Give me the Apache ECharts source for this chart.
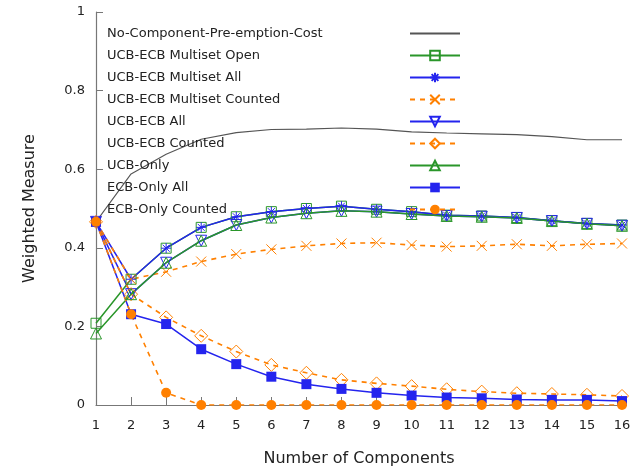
<!DOCTYPE html>
<html>
<head>
<meta charset="utf-8">
<script src="https://cdn.jsdelivr.net/npm/echarts@6/dist/echarts.min.js"></script>
<style>
  html, body { margin: 0; padding: 0; background: #fff; }
  #chart-container { width: 643px; height: 473px; }
</style>
</head>
<body>
<div id="chart-container"></div>
<script>
var xs = [1, 2, 3, 4, 5, 6, 7, 8, 9, 10, 11, 12, 13, 14, 15, 16];
var noComp = [0.466, 0.588, 0.638, 0.676, 0.693, 0.701, 0.702, 0.705, 0.702, 0.695, 0.692, 0.690, 0.688, 0.683, 0.675, 0.675];
var msOpen = [0.208, 0.320, 0.399, 0.452, 0.479, 0.492, 0.500, 0.506, 0.498, 0.492, 0.483, 0.481, 0.477, 0.469, 0.462, 0.458];
var msAll = [0.466, 0.320, 0.399, 0.452, 0.479, 0.492, 0.500, 0.506, 0.498, 0.492, 0.483, 0.481, 0.477, 0.469, 0.462, 0.458];
var msCounted = [0.466, 0.320, 0.339, 0.365, 0.384, 0.396, 0.405, 0.411, 0.413, 0.407, 0.403, 0.405, 0.409, 0.405, 0.409, 0.411];
var ueAll = [0.466, 0.282, 0.362, 0.418, 0.458, 0.477, 0.488, 0.494, 0.492, 0.486, 0.481, 0.479, 0.476, 0.468, 0.461, 0.456];
var ueCounted = [0.466, 0.282, 0.223, 0.176, 0.136, 0.102, 0.082, 0.064, 0.055, 0.048, 0.040, 0.034, 0.030, 0.028, 0.026, 0.023];
var ucbOnly = [0.182, 0.282, 0.362, 0.418, 0.458, 0.477, 0.488, 0.494, 0.492, 0.486, 0.481, 0.479, 0.476, 0.468, 0.461, 0.456];
var ecbAll = [0.466, 0.231, 0.206, 0.142, 0.104, 0.072, 0.053, 0.041, 0.031, 0.024, 0.019, 0.017, 0.014, 0.013, 0.013, 0.010];
var ecbCounted = [0.466, 0.231, 0.031, 0, 0, 0, 0, 0, 0, 0, 0, 0, 0, 0, 0, 0];
var names = ['No-Component-Pre-emption-Cost', 'UCB-ECB Multiset Open', 'UCB-ECB Multiset All',
    'UCB-ECB Multiset Counted', 'UCB-ECB All', 'UCB-ECB Counted', 'UCB-Only',
    'ECB-Only All', 'ECB-Only Counted'];

var GREEN = '#2a962a', BLUE = '#2424ee', ORANGE = '#ff8000', BLACK = '#555';
var FONT = 'DejaVu Sans';

var STAR = 'path://M-1,0L1,0M0,-1L0,1M-0.7,-0.7L0.7,0.7M-0.7,0.7L0.7,-0.7';
var CROSS = 'path://M-1,-1L1,1M-1,1L1,-1';

function pairs(arr) {
    var out = [];
    for (var i = 0; i < xs.length; i++) out.push([xs[i], arr[i]]);
    return out;
}

// one gnuplot style line: colour, dashed or not, marker, open or filled
function mk(name, arr, color, dashed, symbol, open, size, rotate) {
    return {
        name: name,
        type: 'line',
        data: pairs(arr),
        symbol: symbol,
        symbolSize: size || 10,
        symbolRotate: rotate || 0,
        color: color,
        lineStyle: { color: color, width: dashed ? 1.6 : 1.5, type: dashed ? [5, 5] : 'solid' },
        itemStyle: open ? { color: 'transparent', borderColor: color, borderWidth: 1 } : { color: color, borderWidth: 0 },
        emphasis: { disabled: true },
        animation: false
    };
}

var legendData = names.map(function (n, i) {
    if (i === 0) return { name: n, itemStyle: { color: 'transparent', borderWidth: 0 } };
    return { name: n };
});

var chart = echarts.init(document.getElementById('chart-container'));
var noCompSeries = mk(names[0], noComp, BLACK, false, 'circle', false, 0);
noCompSeries.showSymbol = false;
noCompSeries.lineStyle.width = 1.1;

var option = {
    animation: false,
    textStyle: { fontFamily: FONT },
    grid: { left: 96, right: 21, top: 12, bottom: 68 },
    legend: {
        left: 107,
        top: 27,
        padding: 0,
        orient: 'vertical',
        align: 'right',
        itemWidth: 50,
        itemHeight: 12,
        itemGap: 9,
        selectedMode: false,
        formatter: '{a|{name}}',
        textStyle: {
            fontFamily: FONT, fontSize: 13, color: '#222',
            rich: { a: { fontFamily: FONT, fontSize: 13, color: '#222', width: 298, align: 'left' } }
        },
        data: legendData
    },
    xAxis: {
        type: 'value',
        min: 1,
        max: 16,
        interval: 1,
        name: 'Number of Components',
        nameLocation: 'middle',
        nameGap: 46,
        nameTextStyle: { fontFamily: FONT, fontSize: 16, color: '#222' },
        axisLine: { lineStyle: { color: '#777', width: 1.2 } },
        axisTick: { inside: true, length: 8, lineStyle: { color: '#777' } },
        axisLabel: { fontFamily: FONT, fontSize: 13, color: '#222', margin: 14 },
        splitLine: { show: false }
    },
    yAxis: {
        type: 'value',
        min: 0,
        max: 1,
        interval: 0.2,
        name: 'Weighted Measure',
        nameLocation: 'middle',
        nameGap: 58,
        nameTextStyle: { fontFamily: FONT, fontSize: 16, color: '#222' },
        axisLine: { show: true, lineStyle: { color: '#777', width: 1.2 } },
        axisTick: { show: true, inside: true, length: 7, lineStyle: { color: '#777' } },
        axisLabel: { fontFamily: FONT, fontSize: 13, color: '#222', margin: 11 },
        splitLine: { show: false }
    },
    series: [
        noCompSeries,
        mk(names[1], msOpen, GREEN, false, 'rect', true, 10),
        mk(names[2], msAll, BLUE, false, STAR, true, 10),
        mk(names[3], msCounted, ORANGE, true, CROSS, true, 10),
        mk(names[4], ueAll, BLUE, false, 'triangle', true, 11, 180),
        mk(names[5], ueCounted, ORANGE, true, 'diamond', true, 13),
        mk(names[6], ucbOnly, GREEN, false, 'triangle', true, 11),
        mk(names[7], ecbAll, BLUE, false, 'rect', false, 10),
        mk(names[8], ecbCounted, ORANGE, true, 'circle', false, 10)
    ]
};
chart.setOption(option);
window.addEventListener('resize', chart.resize);
</script>
</body>
</html>
